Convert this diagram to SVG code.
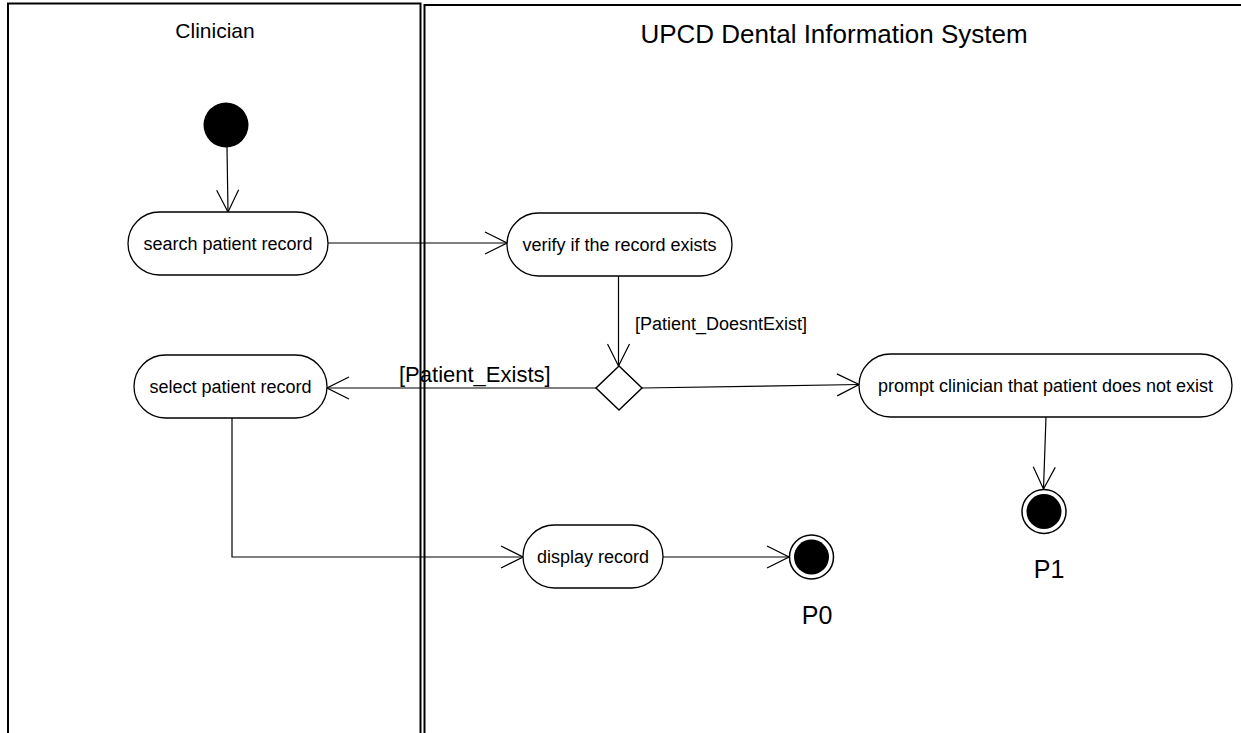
<svg xmlns="http://www.w3.org/2000/svg" width="1241" height="733" viewBox="0 0 1241 733">
  <defs>
    <marker id="open-arrow" viewBox="0 0 24 24" refX="23" refY="12" markerWidth="24" markerHeight="24" orient="auto" markerUnits="userSpaceOnUse">
      <path d="M1,1 L23,12 L1,23" fill="none" stroke="#000" stroke-width="1.2"/>
    </marker>
  </defs>
  <style>
    .lane { fill: none; stroke: #000; stroke-width: 2; }
    .lane-title { font-family: "Liberation Sans", Arial, sans-serif; fill: #000; text-anchor: middle; }
    .action rect { fill: #fff; stroke: #000; stroke-width: 1.3; }
    .action text { font-family: "Liberation Sans", Arial, sans-serif; font-size: 18px; fill: #000; text-anchor: middle; }
    .flow { fill: none; stroke: #000; stroke-width: 1.2; marker-end: url(#open-arrow); }
    .guard { font-family: "Liberation Sans", Arial, sans-serif; fill: #000; }
    .final-ring { fill: #fff; stroke: #000; stroke-width: 1.5; }
    .final-label { font-family: "Liberation Sans", Arial, sans-serif; font-size: 25px; fill: #000; text-anchor: middle; }
  </style>

  <rect width="1241" height="733" fill="#fff"/>

  <!-- swimlanes -->
  <g id="lane-clinician">
    <path class="lane" d="M8,733 V3.5 H420.5 V733"/>
    <text class="lane-title" x="215" y="38" font-size="21">Clinician</text>
  </g>
  <g id="lane-system">
    <path class="lane" d="M424.5,733 V5 H1241"/>
    <text class="lane-title" x="834" y="43" font-size="26">UPCD Dental Information System</text>
  </g>

  <!-- control flows -->
  <g id="connectors">
    <path class="flow" d="M227,147 L228,212"/>
    <path class="flow" d="M328,243 H507"/>
    <path class="flow" d="M618.5,276 V366"/>
    <path class="flow" d="M596,388 H327"/>
    <path class="flow" d="M642,388 L859,384.5"/>
    <path class="flow" d="M1046,417 L1043.5,489"/>
    <path class="flow" d="M232,418 V557 H523"/>
    <path class="flow" d="M663,557 H789"/>
  </g>

  <!-- guard labels -->
  <g id="guards">
    <text class="guard" x="635" y="330" font-size="18">[Patient_DoesntExist]</text>
    <text class="guard" x="399" y="382" font-size="22">[Patient_Exists]</text>
  </g>

  <!-- start -->
  <g id="initial">
    <circle cx="226" cy="125" r="22.5" fill="#000"/>
  </g>

  <!-- actions -->
  <g id="search-patient-record" class="action">
    <rect x="128" y="212" width="200" height="63" rx="31.5"/>
    <text x="228" y="250">search patient record</text>
  </g>
  <g id="verify-record" class="action">
    <rect x="507" y="213" width="225" height="63" rx="31.5"/>
    <text x="619.5" y="251">verify if the record exists</text>
  </g>
  <g id="select-patient-record" class="action">
    <rect x="134" y="355" width="193" height="63" rx="31.5"/>
    <text x="230.5" y="393">select patient record</text>
  </g>
  <g id="prompt-not-exist" class="action">
    <rect x="859" y="354" width="373" height="63" rx="31.5"/>
    <text x="1045.5" y="392">prompt clinician that patient does not exist</text>
  </g>
  <g id="display-record" class="action">
    <rect x="523" y="525" width="140" height="63" rx="31.5"/>
    <text x="593" y="563">display record</text>
  </g>

  <!-- decision -->
  <g id="decision">
    <path d="M619,366 L642,388 L619,410 L596,388 Z" fill="#fff" stroke="#000" stroke-width="1.5"/>
  </g>

  <!-- final nodes -->
  <g id="final-p0">
    <circle class="final-ring" cx="811.5" cy="557" r="22"/>
    <circle cx="811.5" cy="557" r="17.5" fill="#000"/>
    <text class="final-label" x="817" y="624">P0</text>
  </g>
  <g id="final-p1">
    <circle class="final-ring" cx="1044" cy="511.5" r="22"/>
    <circle cx="1044" cy="511.5" r="17.5" fill="#000"/>
    <text class="final-label" x="1049" y="578">P1</text>
  </g>
</svg>
